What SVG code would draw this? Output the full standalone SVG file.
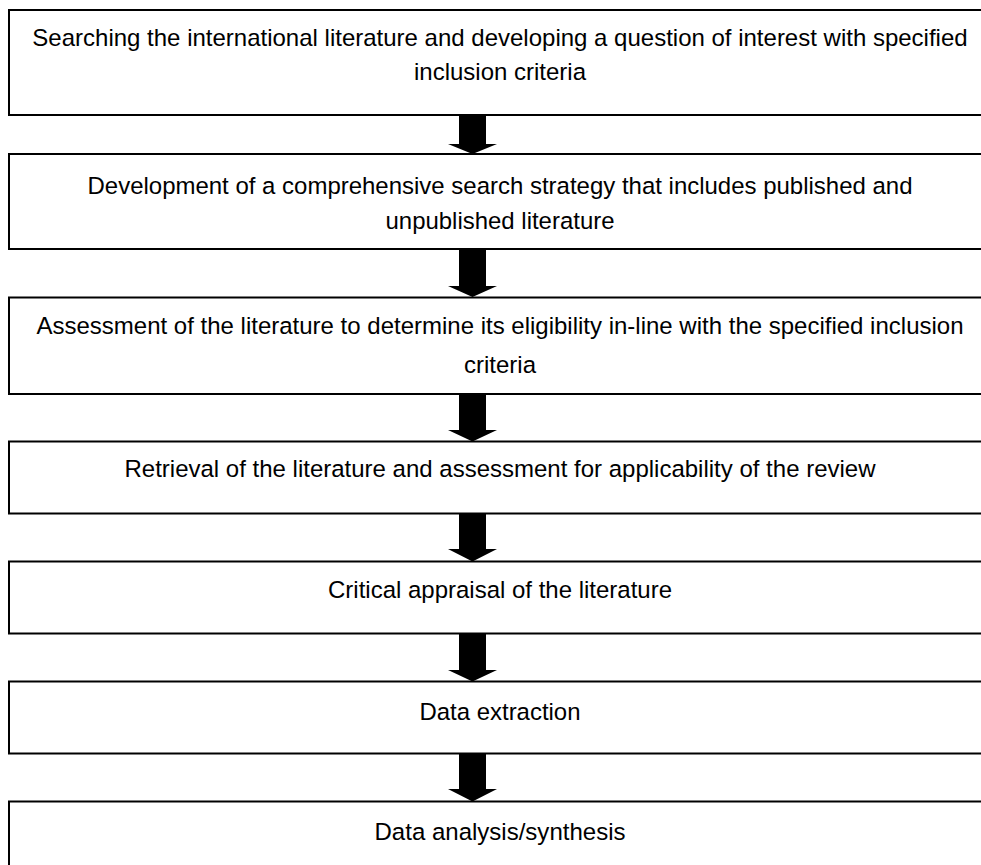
<svg xmlns="http://www.w3.org/2000/svg" width="981" height="865" viewBox="0 0 981 865">
<style>
.box{fill:#ffffff;stroke:#000000;stroke-width:2}
.lbl{font-family:"Liberation Sans",Arial,sans-serif;font-size:24.5px;fill:#000000;text-anchor:middle}
.arr{fill:#000000;stroke:none}
</style>
<rect x="0" y="0" width="981" height="865" fill="#ffffff"/>
<g id="connectors">
<polygon class="arr" points="459,115 486,115 486,144 497,144 472.5,154 448,144 459,144"/>
<polygon class="arr" points="459,249 486,249 486,286 497,286 472.5,297 448,286 459,286"/>
<polygon class="arr" points="459,394 486,394 486,430 497,430 472.5,441.5 448,430 459,430"/>
<polygon class="arr" points="459,513 486,513 486,549 497,549 472.5,561.5 448,549 459,549"/>
<polygon class="arr" points="459,633 486,633 486,670 497,670 472.5,681.5 448,670 459,670"/>
<polygon class="arr" points="459,753 486,753 486,789 497,789 472.5,801.5 448,789 459,789"/>
</g>
<g id="n1">
<rect class="box" x="9" y="10" width="984" height="105"/>
<text class="lbl" x="500" y="46" style="font-size:24px">Searching the international literature and developing a question of interest with specified</text>
<text class="lbl" x="500" y="80" textLength="172" lengthAdjust="spacingAndGlyphs">inclusion criteria</text>
</g>
<g id="n2">
<rect class="box" x="9" y="154" width="984" height="95"/>
<text class="lbl" x="500" y="194" textLength="825" lengthAdjust="spacingAndGlyphs">Development of a comprehensive search strategy that includes published and</text>
<text class="lbl" x="500" y="229" textLength="229" lengthAdjust="spacingAndGlyphs">unpublished literature</text>
</g>
<g id="n3">
<rect class="box" x="9" y="297.5" width="984" height="96.5"/>
<text class="lbl" x="500" y="334" textLength="927" lengthAdjust="spacingAndGlyphs">Assessment of the literature to determine its eligibility in-line with the specified inclusion</text>
<text class="lbl" x="500" y="373" textLength="72" lengthAdjust="spacingAndGlyphs">criteria</text>
</g>
<g id="n4">
<rect class="box" x="9" y="441.5" width="984" height="72"/>
<text class="lbl" x="500" y="477" textLength="751" lengthAdjust="spacingAndGlyphs">Retrieval of the literature and assessment for applicability of the review</text>
</g>
<g id="n5">
<rect class="box" x="9" y="561.5" width="984" height="72"/>
<text class="lbl" x="500" y="598" textLength="344" lengthAdjust="spacingAndGlyphs">Critical appraisal of the literature</text>
</g>
<g id="n6">
<rect class="box" x="9" y="681.5" width="984" height="72"/>
<text class="lbl" x="500" y="720" textLength="161" lengthAdjust="spacingAndGlyphs">Data extraction</text>
</g>
<g id="n7">
<rect class="box" x="9" y="801.5" width="984" height="72"/>
<text class="lbl" x="500" y="840" textLength="251" lengthAdjust="spacingAndGlyphs">Data analysis/synthesis</text>
</g>
</svg>
